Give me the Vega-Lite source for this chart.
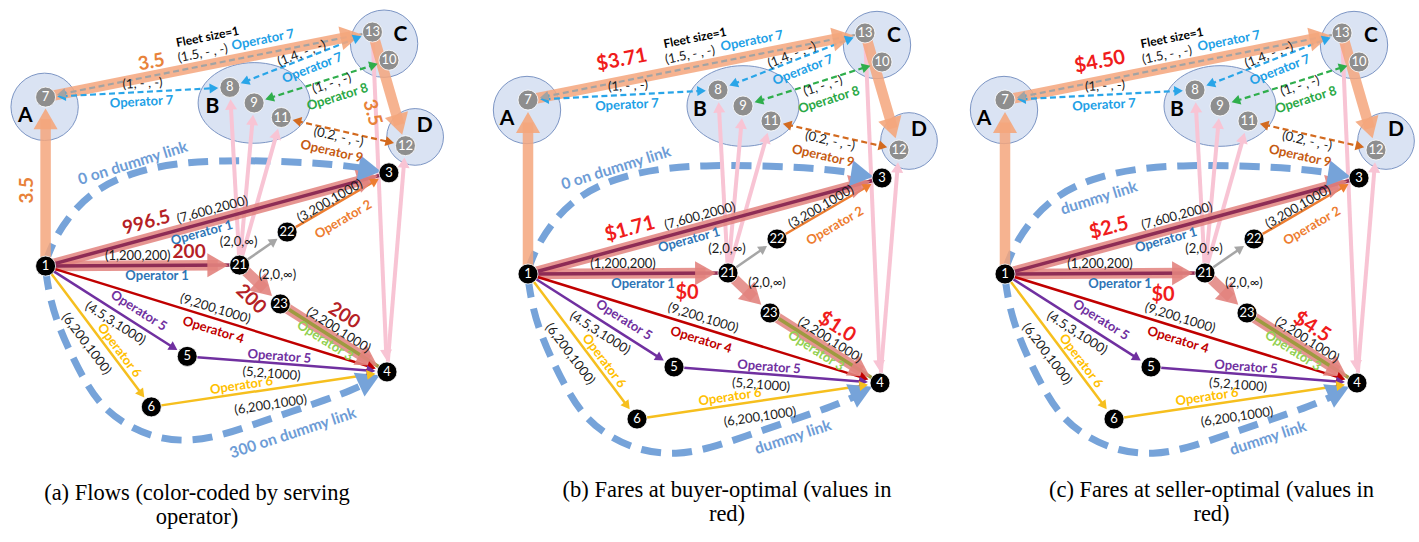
{
"$schema":"https://vega.github.io/schema/vega-lite/v6.json",
"padding":0,
"background":"white",
"spacing":7,
"config":{"view":{"stroke":null},"font":"Lato"},
"datasets":{
"nodes":[
{"id":"1","x":47,"y":274,"kind":"black"},
{"id":"3","x":401,"y":178,"kind":"black"},
{"id":"4","x":399,"y":383,"kind":"black"},
{"id":"5","x":193,"y":367,"kind":"black"},
{"id":"6","x":156,"y":419,"kind":"black"},
{"id":"21","x":247,"y":273,"kind":"black"},
{"id":"22","x":296,"y":239,"kind":"black"},
{"id":"23","x":289,"y":313,"kind":"black"},
{"id":"7","x":47,"y":100,"kind":"gray"},
{"id":"8","x":237,"y":90,"kind":"gray"},
{"id":"9","x":262,"y":106,"kind":"gray"},
{"id":"11","x":290,"y":121,"kind":"gray"},
{"id":"13","x":384,"y":33,"kind":"gray"},
{"id":"10","x":401,"y":62,"kind":"gray"},
{"id":"12","x":418,"y":150,"kind":"gray"},
{"id":"dt1","x":96,"y":193,"kind":"pseudo"},
{"id":"dt2","x":176,"y":168,"kind":"pseudo"},
{"id":"db1","x":265,"y":436,"kind":"pseudo"},
{"id":"db2","x":335,"y":413,"kind":"pseudo"},
{"id":"dth","x":330,"y":167,"kind":"pseudo"},
{"id":"dbh","x":340,"y":410,"kind":"pseudo"}
],
"zones":[
{"zone":"A","x":46,"y":110,"r":38,"kind":"zone"},
{"zone":"C","x":396,"y":45,"r":38,"kind":"zone"},
{"zone":"D","x":428,"y":141,"r":32,"kind":"zone"}
],
"ovals":[{"zone":"B","x":262,"y":106,"kind":"zone"}],
"curves":[
{"curve":"top","o":1,"x":47,"y":270,"kind":"dummy"},
{"curve":"top","o":2,"x":55,"y":248,"kind":"dummy"},
{"curve":"top","o":3,"x":72,"y":221,"kind":"dummy"},
{"curve":"top","o":4,"x":97,"y":196,"kind":"dummy"},
{"curve":"top","o":5,"x":134,"y":178,"kind":"dummy"},
{"curve":"top","o":6,"x":180,"y":168,"kind":"dummy"},
{"curve":"top","o":7,"x":230,"y":165,"kind":"dummy"},
{"curve":"top","o":8,"x":290,"y":166,"kind":"dummy"},
{"curve":"top","o":9,"x":345,"y":169,"kind":"dummy"},
{"curve":"top","o":10,"x":380,"y":174,"kind":"dummy"},
{"curve":"bottom","o":1,"x":47,"y":278,"kind":"dummy"},
{"curve":"bottom","o":2,"x":51,"y":305,"kind":"dummy"},
{"curve":"bottom","o":3,"x":59,"y":332,"kind":"dummy"},
{"curve":"bottom","o":4,"x":71,"y":360,"kind":"dummy"},
{"curve":"bottom","o":5,"x":86,"y":390,"kind":"dummy"},
{"curve":"bottom","o":6,"x":104,"y":418,"kind":"dummy"},
{"curve":"bottom","o":7,"x":130,"y":438,"kind":"dummy"},
{"curve":"bottom","o":8,"x":160,"y":451,"kind":"dummy"},
{"curve":"bottom","o":9,"x":195,"y":455,"kind":"dummy"},
{"curve":"bottom","o":10,"x":230,"y":448,"kind":"dummy"},
{"curve":"bottom","o":11,"x":265,"y":436,"kind":"dummy"},
{"curve":"bottom","o":12,"x":300,"y":424,"kind":"dummy"},
{"curve":"bottom","o":13,"x":335,"y":412,"kind":"dummy"},
{"curve":"bottom","o":14,"x":362,"y":402,"kind":"dummy"},
{"curve":"bottom","o":15,"x":379,"y":394,"kind":"dummy"}
],
"links":[
{"src":"21","dst":"8","kind":"pink","heads":"end"},
{"src":"21","dst":"9","kind":"pink","heads":"end"},
{"src":"21","dst":"11","kind":"pink","heads":"end"},
{"src":"13","dst":"4","kind":"pink","heads":"end"},
{"src":"4","dst":"12","kind":"pink","heads":"end"},
{"src":"1","dst":"7","kind":"rebal","heads":"end"},
{"src":"7","dst":"13","kind":"rebal","heads":"end"},
{"src":"13","dst":"12","kind":"rebal","heads":"end"},
{"src":"1","dst":"3","kind":"flow","heads":"end"},
{"src":"1","dst":"21","kind":"flow","heads":"end"},
{"src":"21","dst":"23","kind":"flow","heads":"end"},
{"src":"23","dst":"4","kind":"flow","heads":"end"},
{"src":"1","dst":"3","kind":"op1","heads":"none"},
{"src":"1","dst":"21","kind":"op1","heads":"none"},
{"src":"23","dst":"4","kind":"op3","heads":"none"},
{"src":"21","dst":"22","kind":"transfer","heads":"end"},
{"src":"22","dst":"3","kind":"op2","heads":"end"},
{"src":"1","dst":"4","kind":"op4","heads":"end"},
{"src":"1","dst":"5","kind":"op5","heads":"end"},
{"src":"5","dst":"4","kind":"op5","heads":"end"},
{"src":"1","dst":"6","kind":"op6","heads":"end"},
{"src":"6","dst":"4","kind":"op6","heads":"end"},
{"src":"7","dst":"8","kind":"op7","heads":"both"},
{"src":"8","dst":"13","kind":"op7","heads":"both"},
{"src":"9","dst":"10","kind":"op8","heads":"both"},
{"src":"11","dst":"12","kind":"op9","heads":"both"},
{"src":"7","dst":"13","kind":"fleet","heads":"start"},
{"src":"dth","dst":"3","kind":"dummy","heads":"end"},
{"src":"dbh","dst":"4","kind":"dummy","heads":"end"}
],
"labels":[
{"panel":"all","t":"A","kind":"t_zone","x":26,"y":119},
{"panel":"all","t":"B","kind":"t_zone","x":219,"y":110},
{"panel":"all","t":"C","kind":"t_zone","x":413,"y":36},
{"panel":"all","t":"D","kind":"t_zone","x":438,"y":130},
{"panel":"all","t":"Fleet size=1","kind":"t_fleet","x":214,"y":38,"a":"7","b":"13"},
{"panel":"all","t":"(1.5, - , -)","kind":"tuple","x":209,"y":55,"a":"7","b":"13"},
{"panel":"all","t":"Operator 7","kind":"t_op7","x":271,"y":41,"a":"7","b":"13"},
{"panel":"all","t":"(1, - , -)","kind":"tuple","x":147,"y":86,"a":"7","b":"8"},
{"panel":"all","t":"Operator 7","kind":"t_op7","x":146,"y":105,"a":"7","b":"8"},
{"panel":"all","t":"(1.4, - , -)","kind":"tuple","x":311,"y":55,"a":"8","b":"13"},
{"panel":"all","t":"Operator 7","kind":"t_op7","x":322,"y":70,"a":"8","b":"13"},
{"panel":"all","t":"(1, - , -)","kind":"tuple","x":342,"y":86,"a":"9","b":"10"},
{"panel":"all","t":"Operator 8","kind":"t_op8","x":348,"y":100,"a":"9","b":"10"},
{"panel":"all","t":"(0.2, - , -)","kind":"tuple","x":349,"y":141,"a":"11","b":"12"},
{"panel":"all","t":"Operator 9","kind":"t_op9","x":342,"y":156,"a":"11","b":"12"},
{"panel":"all","t":"(7,600,2000)","kind":"tuple","x":219,"y":216,"a":"1","b":"3"},
{"panel":"all","t":"Operator 1","kind":"t_op1","x":208,"y":240,"a":"1","b":"3"},
{"panel":"all","t":"(1,200,200)","kind":"tuple","x":142,"y":264},
{"panel":"all","t":"Operator 1","kind":"t_op1","x":162,"y":284},
{"panel":"all","t":"(2,0,∞)","kind":"tuple","x":246,"y":249},
{"panel":"all","t":"(2,0,∞)","kind":"tuple","x":286,"y":283},
{"panel":"all","t":"(3,200,1000)","kind":"tuple","x":340,"y":207,"a":"22","b":"3"},
{"panel":"all","t":"Operator 2","kind":"t_op2","x":354,"y":226,"a":"22","b":"3"},
{"panel":"all","t":"(2,200,1000)","kind":"tuple","x":349,"y":340,"a":"23","b":"4"},
{"panel":"all","t":"Operator 3","kind":"t_op3","x":335,"y":351,"a":"23","b":"4"},
{"panel":"all","t":"(9,200,1000)","kind":"tuple","x":222,"y":318,"a":"1","b":"4"},
{"panel":"all","t":"Operator 4","kind":"t_op4","x":220,"y":340,"a":"1","b":"4"},
{"panel":"all","t":"Operator 5","kind":"t_op5","x":143,"y":320,"a":"1","b":"5"},
{"panel":"all","t":"(4.5,3,1000)","kind":"tuple","x":119,"y":333,"a":"1","b":"5"},
{"panel":"all","t":"(6,200,1000)","kind":"tuple","x":89,"y":354,"a":"1","b":"6"},
{"panel":"all","t":"Operator 6","kind":"t_op6","x":123,"y":361,"a":"1","b":"6"},
{"panel":"all","t":"Operator 5","kind":"t_op5","x":288,"y":367,"a":"5","b":"4"},
{"panel":"all","t":"(5,2,1000)","kind":"tuple","x":280,"y":385,"a":"5","b":"4"},
{"panel":"all","t":"Operator 6","kind":"t_op6","x":249,"y":397,"a":"6","b":"4"},
{"panel":"all","t":"(6,200,1000)","kind":"tuple","x":279,"y":417,"a":"6","b":"4"},
{"panel":"a","t":"3.5","kind":"t_rebalval","x":28,"y":196,"a":"1","b":"7"},
{"panel":"a","t":"3.5","kind":"t_rebalval","x":156,"y":64,"a":"7","b":"13"},
{"panel":"a","t":"3.5","kind":"t_rebalval","x":384,"y":116,"a":"13","b":"12"},
{"panel":"a","t":"996.5","kind":"t_flowval","x":151,"y":229,"a":"1","b":"3"},
{"panel":"a","t":"200","kind":"t_flowval","x":195,"y":260},
{"panel":"a","t":"200","kind":"t_flowval","x":259,"y":308,"a":"21","b":"23"},
{"panel":"a","t":"200","kind":"t_flowval","x":355,"y":325,"a":"23","b":"4"},
{"panel":"a","t":"0 on dummy link","kind":"t_dummy","x":137,"y":168,"a":"dt1","b":"dt2"},
{"panel":"a","t":"300 on dummy link","kind":"t_dummy","x":302,"y":446,"a":"db1","b":"db2"},
{"panel":"b","t":"$3.71","kind":"t_fare","x":141,"y":60,"a":"7","b":"13"},
{"panel":"b","t":"$1.71","kind":"t_fare","x":149,"y":229,"a":"1","b":"3"},
{"panel":"b","t":"$0","kind":"t_fare","x":206,"y":293},
{"panel":"b","t":"$1.0","kind":"t_fare","x":356,"y":327,"a":"23","b":"4"},
{"panel":"b","t":"0 on dummy link","kind":"t_dummy","x":135,"y":168,"a":"dt1","b":"dt2"},
{"panel":"b","t":"dummy link","kind":"t_dummy","x":312,"y":437,"a":"db1","b":"db2"},
{"panel":"c","t":"$4.50","kind":"t_fare","x":142,"y":62,"a":"7","b":"13"},
{"panel":"c","t":"$2.5","kind":"t_fare","x":151,"y":228,"a":"1","b":"3"},
{"panel":"c","t":"$0","kind":"t_fare","x":205,"y":295},
{"panel":"c","t":"$4.5","kind":"t_fare","x":354,"y":327,"a":"23","b":"4"},
{"panel":"c","t":"dummy link","kind":"t_dummy","x":141,"y":198,"a":"dt1","b":"dt2"},
{"panel":"c","t":"dummy link","kind":"t_dummy","x":310,"y":438,"a":"db1","b":"db2"}
]
},
"hconcat":[
{
"width":474,"height":450,
"title":{"text":["(a) Flows (color-coded by serving","operator)"],"orient":"bottom","anchor":"middle","dx":-40,"offset":20,"font":"Liberation Serif","fontSize":22.5,"fontWeight":"normal","color":"#000000","lineHeight":24},
"encoding":{
"x":{"field":"x","type":"quantitative","scale":{"domain":[0,488.7],"nice":false,"zero":false},"axis":null},
"y":{"field":"y","type":"quantitative","scale":{"domain":[0,463.4],"nice":false,"zero":false,"reverse":true},"axis":null},
"color":{"field":"kind","type":"nominal","scale":{"domain":["zone","dummy","pink","rebal","flow","op1","op2","op3","op4","op5","op6","op7","op8","op9","fleet","transfer","black","gray","tuple","t_op1","t_op2","t_op3","t_op4","t_op5","t_op6","t_op7","t_op8","t_op9","t_dummy","t_flowval","t_rebalval","t_fare","t_zone","t_fleet"],"range":["#dae3f3","#76a3d9","#f8c4d4","#f4a67c","#e2837e","#8e2c55","#ed7d31","#9e9a40","#c00000","#7030a0","#f6bf1e","#29a5e8","#2fae4c","#d36a1f","#a3a3a3","#a6a6a6","#000000","#8e8e8e","#1a1a1a","#2e75b6","#ed7d31","#92d050","#c00000","#7030a0","#ffc000","#21a0e6","#2aa845","#c55a11","#6d9cd6","#b51f26","#e8823a","#f01c1c","#000000","#000000"]},"legend":null}
},
"layer":[
{"data":{"name":"zones"},"mark":{"type":"point","shape":"circle","filled":true,"opacity":1,"stroke":"#7c95c4","strokeWidth":1},"encoding":{"size":{"field":"r","type":"quantitative","scale":{"type":"pow","exponent":2,"domain":[0,100],"range":[0,31416]},"legend":null}}},
{"data":{"name":"ovals"},"mark":{"type":"point","shape":"M -1 0 A 1 0.72 0 1 1 1 0 A 1 0.72 0 1 1 -1 0 Z","filled":true,"opacity":1,"stroke":"#7c95c4","strokeWidth":1,"size":12544}},
{"data":{"name":"curves"},"mark":{"type":"line","interpolate":"basis","strokeWidth":7,"strokeDash":[20,11]},"encoding":{"detail":{"field":"curve","type":"nominal"},"order":{"field":"o","type":"quantitative"}}},
{"data":{"name":"links"},
"transform":[
{"lookup":"src","from":{"data":{"name":"nodes"},"key":"id","fields":["x","y","kind"]},"as":["x1","y1","k1"]},
{"lookup":"dst","from":{"data":{"name":"nodes"},"key":"id","fields":["x","y"]},"as":["xd","yd"]},
{"calculate":"sqrt((datum.xd-datum.x1)*(datum.xd-datum.x1)+(datum.yd-datum.y1)*(datum.yd-datum.y1))","as":"len"},
{"calculate":"(datum.xd-datum.x1)/datum.len","as":"ux"},
{"calculate":"(datum.yd-datum.y1)/datum.len","as":"uy"},
{"calculate":"(datum.kind=='rebal'||datum.kind=='flow')?21:(datum.kind=='dummy'?22:(datum.kind=='pink'?11:9))","as":"hh"},
{"calculate":"datum.k1=='pseudo'?0:12","as":"r1"},
{"calculate":"datum.kind=='dummy'?9:12","as":"r2"},
{"calculate":"datum.xd-datum.ux*(datum.r2+datum.hh/2)","as":"hx"},
{"calculate":"datum.yd-datum.uy*(datum.r2+datum.hh/2)","as":"hy"},
{"calculate":"datum.x1+datum.ux*(datum.r1+datum.hh/2)","as":"sx"},
{"calculate":"datum.y1+datum.uy*(datum.r1+datum.hh/2)","as":"sy"},
{"calculate":"atan2(datum.ux,-datum.uy)*180/PI","as":"ha"},
{"calculate":"datum.ha+180","as":"sa"},
{"calculate":"(datum.heads=='start'||datum.heads=='both')?datum.sx:datum.x1","as":"x"},
{"calculate":"(datum.heads=='start'||datum.heads=='both')?datum.sy:datum.y1","as":"y"},
{"calculate":"(datum.heads=='end'||datum.heads=='both')?datum.hx:datum.xd","as":"x2"},
{"calculate":"(datum.heads=='end'||datum.heads=='both')?datum.hy:datum.yd","as":"y2"}
],
"layer":[
{"transform":[{"filter":"datum.kind=='pink'"}],"mark":{"type":"rule","strokeWidth":4},"encoding":{"x2":{"field":"x2"},"y2":{"field":"y2"}}},
{"transform":[{"filter":"datum.kind=='rebal'||datum.kind=='flow'"}],"mark":{"type":"rule","strokeWidth":10.5,"opacity":0.85},"encoding":{"x2":{"field":"x2"},"y2":{"field":"y2"}}},
{"transform":[{"filter":"datum.kind=='op1'||datum.kind=='op3'"}],"mark":{"type":"rule","strokeWidth":3.5},"encoding":{"x2":{"field":"x2"},"y2":{"field":"y2"}}},
{"transform":[{"filter":"indexof(['op2','op4','op5','op6','transfer'],datum.kind)>=0"}],"mark":{"type":"rule","strokeWidth":2.5},"encoding":{"x2":{"field":"x2"},"y2":{"field":"y2"}}},
{"transform":[{"filter":"indexof(['op7','op8','op9','fleet'],datum.kind)>=0"}],"mark":{"type":"rule","strokeWidth":2.2,"strokeDash":[6,3.5]},"encoding":{"x2":{"field":"x2"},"y2":{"field":"y2"}}},
{"transform":[{"filter":"datum.heads=='end'&&(datum.kind=='rebal'||datum.kind=='flow')"},{"calculate":"datum.hx","as":"x"},{"calculate":"datum.hy","as":"y"}],"mark":{"type":"point","shape":"triangle-up","filled":true,"opacity":0.9,"size":576},"encoding":{"angle":{"field":"ha","type":"quantitative","scale":null}}},
{"transform":[{"filter":"datum.kind=='dummy'"},{"calculate":"datum.hx","as":"x"},{"calculate":"datum.hy","as":"y"}],"mark":{"type":"point","shape":"triangle-up","filled":true,"opacity":1,"size":676},"encoding":{"angle":{"field":"ha","type":"quantitative","scale":null}}},
{"transform":[{"filter":"datum.kind=='pink'"},{"calculate":"datum.hx","as":"x"},{"calculate":"datum.hy","as":"y"}],"mark":{"type":"point","shape":"triangle-up","filled":true,"opacity":1,"size":144},"encoding":{"angle":{"field":"ha","type":"quantitative","scale":null}}},
{"transform":[{"filter":"(datum.heads=='end'||datum.heads=='both')&&indexof(['op2','op4','op5','op6','op7','op8','op9','transfer'],datum.kind)>=0"},{"calculate":"datum.hx","as":"x"},{"calculate":"datum.hy","as":"y"}],"mark":{"type":"point","shape":"triangle-up","filled":true,"opacity":1,"size":100},"encoding":{"angle":{"field":"ha","type":"quantitative","scale":null}}},
{"transform":[{"filter":"datum.heads=='start'||datum.heads=='both'"},{"calculate":"datum.sx","as":"x"},{"calculate":"datum.sy","as":"y"}],"mark":{"type":"point","shape":"triangle-up","filled":true,"opacity":1,"size":100},"encoding":{"angle":{"field":"sa","type":"quantitative","scale":null}}}
]},
{"data":{"name":"nodes"},"transform":[{"filter":"datum.kind!='pseudo'"}],"layer":[
{"mark":{"type":"point","shape":"circle","filled":true,"opacity":1,"size":400,"stroke":"#ffffff","strokeWidth":0.8}},
{"mark":{"type":"text","font":"Lato","fontSize":13,"align":"center","baseline":"middle"},"encoding":{"text":{"field":"id","type":"nominal"},"color":{"value":"#ffffff"}}}
]},
{"data":{"name":"labels"},
"transform":[
{"filter":"datum.panel=='all'||datum.panel=='a'"},
{"lookup":"a","from":{"data":{"name":"nodes"},"key":"id","fields":["x","y"]},"as":["ax","ay"]},
{"lookup":"b","from":{"data":{"name":"nodes"},"key":"id","fields":["x","y"]},"as":["bx","by"]},
{"calculate":"datum.a?atan2(datum.by-datum.ay,datum.bx-datum.ax)*180/PI:0","as":"raw"},
{"calculate":"datum.raw>90?datum.raw-180:(datum.raw<-90?datum.raw+180:datum.raw)","as":"ang"}
],
"encoding":{"text":{"field":"t","type":"nominal"},"angle":{"field":"ang","type":"quantitative","scale":null}},
"layer":[
{"transform":[{"filter":"datum.kind=='tuple'"}],"mark":{"type":"text","font":"Lato","fontSize":13,"align":"center","baseline":"middle"}},
{"transform":[{"filter":"indexof(datum.kind,'t_op')==0"}],"mark":{"type":"text","font":"Lato","fontWeight":"bold","fontSize":13,"align":"center","baseline":"middle"}},
{"transform":[{"filter":"datum.kind=='t_flowval'||datum.kind=='t_rebalval'"}],"mark":{"type":"text","font":"Lato","fontWeight":"bold","fontSize":19,"align":"center","baseline":"middle"}},
{"transform":[{"filter":"datum.kind=='t_fare'"}],"mark":{"type":"text","font":"Lato","fontWeight":"bold","fontSize":20,"align":"center","baseline":"middle"}},
{"transform":[{"filter":"datum.kind=='t_dummy'"}],"mark":{"type":"text","font":"Lato","fontWeight":"bold","fontSize":15.5,"align":"center","baseline":"middle"}},
{"transform":[{"filter":"datum.kind=='t_zone'"}],"mark":{"type":"text","font":"Lato","fontWeight":"bold","fontSize":21,"align":"center","baseline":"middle"}},
{"transform":[{"filter":"datum.kind=='t_fleet'"}],"mark":{"type":"text","font":"Lato","fontWeight":"bold","fontSize":12,"align":"center","baseline":"middle"}}
]}
]
},
{
"width":470,"height":450,
"title":{"text":["(b) Fares at buyer-optimal (values in","red)"],"orient":"bottom","anchor":"middle","dx":11,"offset":12,"font":"Liberation Serif","fontSize":22.5,"fontWeight":"normal","color":"#000000","lineHeight":24},
"encoding":{
"x":{"field":"x","type":"quantitative","scale":{"domain":[0,470],"nice":false,"zero":false},"axis":null},
"y":{"field":"y","type":"quantitative","scale":{"domain":[0,450],"nice":false,"zero":false,"reverse":true},"axis":null},
"color":{"field":"kind","type":"nominal","scale":{"domain":["zone","dummy","pink","rebal","flow","op1","op2","op3","op4","op5","op6","op7","op8","op9","fleet","transfer","black","gray","tuple","t_op1","t_op2","t_op3","t_op4","t_op5","t_op6","t_op7","t_op8","t_op9","t_dummy","t_flowval","t_rebalval","t_fare","t_zone","t_fleet"],"range":["#dae3f3","#76a3d9","#f8c4d4","#f4a67c","#e2837e","#8e2c55","#ed7d31","#9e9a40","#c00000","#7030a0","#f6bf1e","#29a5e8","#2fae4c","#d36a1f","#a3a3a3","#a6a6a6","#000000","#8e8e8e","#1a1a1a","#2e75b6","#ed7d31","#92d050","#c00000","#7030a0","#ffc000","#21a0e6","#2aa845","#c55a11","#6d9cd6","#b51f26","#e8823a","#f01c1c","#000000","#000000"]},"legend":null}
},
"layer":[
{"data":{"name":"zones"},"mark":{"type":"point","shape":"circle","filled":true,"opacity":1,"stroke":"#7c95c4","strokeWidth":1},"encoding":{"size":{"field":"r","type":"quantitative","scale":{"type":"pow","exponent":2,"domain":[0,100],"range":[0,31416]},"legend":null}}},
{"data":{"name":"ovals"},"mark":{"type":"point","shape":"M -1 0 A 1 0.72 0 1 1 1 0 A 1 0.72 0 1 1 -1 0 Z","filled":true,"opacity":1,"stroke":"#7c95c4","strokeWidth":1,"size":12544}},
{"data":{"name":"curves"},"mark":{"type":"line","interpolate":"basis","strokeWidth":7,"strokeDash":[20,11]},"encoding":{"detail":{"field":"curve","type":"nominal"},"order":{"field":"o","type":"quantitative"}}},
{"data":{"name":"links"},
"transform":[
{"lookup":"src","from":{"data":{"name":"nodes"},"key":"id","fields":["x","y","kind"]},"as":["x1","y1","k1"]},
{"lookup":"dst","from":{"data":{"name":"nodes"},"key":"id","fields":["x","y"]},"as":["xd","yd"]},
{"calculate":"sqrt((datum.xd-datum.x1)*(datum.xd-datum.x1)+(datum.yd-datum.y1)*(datum.yd-datum.y1))","as":"len"},
{"calculate":"(datum.xd-datum.x1)/datum.len","as":"ux"},
{"calculate":"(datum.yd-datum.y1)/datum.len","as":"uy"},
{"calculate":"(datum.kind=='rebal'||datum.kind=='flow')?21:(datum.kind=='dummy'?22:(datum.kind=='pink'?11:9))","as":"hh"},
{"calculate":"datum.k1=='pseudo'?0:12","as":"r1"},
{"calculate":"datum.kind=='dummy'?9:12","as":"r2"},
{"calculate":"datum.xd-datum.ux*(datum.r2+datum.hh/2)","as":"hx"},
{"calculate":"datum.yd-datum.uy*(datum.r2+datum.hh/2)","as":"hy"},
{"calculate":"datum.x1+datum.ux*(datum.r1+datum.hh/2)","as":"sx"},
{"calculate":"datum.y1+datum.uy*(datum.r1+datum.hh/2)","as":"sy"},
{"calculate":"atan2(datum.ux,-datum.uy)*180/PI","as":"ha"},
{"calculate":"datum.ha+180","as":"sa"},
{"calculate":"(datum.heads=='start'||datum.heads=='both')?datum.sx:datum.x1","as":"x"},
{"calculate":"(datum.heads=='start'||datum.heads=='both')?datum.sy:datum.y1","as":"y"},
{"calculate":"(datum.heads=='end'||datum.heads=='both')?datum.hx:datum.xd","as":"x2"},
{"calculate":"(datum.heads=='end'||datum.heads=='both')?datum.hy:datum.yd","as":"y2"}
],
"layer":[
{"transform":[{"filter":"datum.kind=='pink'"}],"mark":{"type":"rule","strokeWidth":4},"encoding":{"x2":{"field":"x2"},"y2":{"field":"y2"}}},
{"transform":[{"filter":"datum.kind=='rebal'||datum.kind=='flow'"}],"mark":{"type":"rule","strokeWidth":10.5,"opacity":0.85},"encoding":{"x2":{"field":"x2"},"y2":{"field":"y2"}}},
{"transform":[{"filter":"datum.kind=='op1'||datum.kind=='op3'"}],"mark":{"type":"rule","strokeWidth":3.5},"encoding":{"x2":{"field":"x2"},"y2":{"field":"y2"}}},
{"transform":[{"filter":"indexof(['op2','op4','op5','op6','transfer'],datum.kind)>=0"}],"mark":{"type":"rule","strokeWidth":2.5},"encoding":{"x2":{"field":"x2"},"y2":{"field":"y2"}}},
{"transform":[{"filter":"indexof(['op7','op8','op9','fleet'],datum.kind)>=0"}],"mark":{"type":"rule","strokeWidth":2.2,"strokeDash":[6,3.5]},"encoding":{"x2":{"field":"x2"},"y2":{"field":"y2"}}},
{"transform":[{"filter":"datum.heads=='end'&&(datum.kind=='rebal'||datum.kind=='flow')"},{"calculate":"datum.hx","as":"x"},{"calculate":"datum.hy","as":"y"}],"mark":{"type":"point","shape":"triangle-up","filled":true,"opacity":0.9,"size":576},"encoding":{"angle":{"field":"ha","type":"quantitative","scale":null}}},
{"transform":[{"filter":"datum.kind=='dummy'"},{"calculate":"datum.hx","as":"x"},{"calculate":"datum.hy","as":"y"}],"mark":{"type":"point","shape":"triangle-up","filled":true,"opacity":1,"size":676},"encoding":{"angle":{"field":"ha","type":"quantitative","scale":null}}},
{"transform":[{"filter":"datum.kind=='pink'"},{"calculate":"datum.hx","as":"x"},{"calculate":"datum.hy","as":"y"}],"mark":{"type":"point","shape":"triangle-up","filled":true,"opacity":1,"size":144},"encoding":{"angle":{"field":"ha","type":"quantitative","scale":null}}},
{"transform":[{"filter":"(datum.heads=='end'||datum.heads=='both')&&indexof(['op2','op4','op5','op6','op7','op8','op9','transfer'],datum.kind)>=0"},{"calculate":"datum.hx","as":"x"},{"calculate":"datum.hy","as":"y"}],"mark":{"type":"point","shape":"triangle-up","filled":true,"opacity":1,"size":100},"encoding":{"angle":{"field":"ha","type":"quantitative","scale":null}}},
{"transform":[{"filter":"datum.heads=='start'||datum.heads=='both'"},{"calculate":"datum.sx","as":"x"},{"calculate":"datum.sy","as":"y"}],"mark":{"type":"point","shape":"triangle-up","filled":true,"opacity":1,"size":100},"encoding":{"angle":{"field":"sa","type":"quantitative","scale":null}}}
]},
{"data":{"name":"nodes"},"transform":[{"filter":"datum.kind!='pseudo'"}],"layer":[
{"mark":{"type":"point","shape":"circle","filled":true,"opacity":1,"size":400,"stroke":"#ffffff","strokeWidth":0.8}},
{"mark":{"type":"text","font":"Lato","fontSize":13,"align":"center","baseline":"middle"},"encoding":{"text":{"field":"id","type":"nominal"},"color":{"value":"#ffffff"}}}
]},
{"data":{"name":"labels"},
"transform":[
{"filter":"datum.panel=='all'||datum.panel=='b'"},
{"lookup":"a","from":{"data":{"name":"nodes"},"key":"id","fields":["x","y"]},"as":["ax","ay"]},
{"lookup":"b","from":{"data":{"name":"nodes"},"key":"id","fields":["x","y"]},"as":["bx","by"]},
{"calculate":"datum.a?atan2(datum.by-datum.ay,datum.bx-datum.ax)*180/PI:0","as":"raw"},
{"calculate":"datum.raw>90?datum.raw-180:(datum.raw<-90?datum.raw+180:datum.raw)","as":"ang"}
],
"encoding":{"text":{"field":"t","type":"nominal"},"angle":{"field":"ang","type":"quantitative","scale":null}},
"layer":[
{"transform":[{"filter":"datum.kind=='tuple'"}],"mark":{"type":"text","font":"Lato","fontSize":13,"align":"center","baseline":"middle"}},
{"transform":[{"filter":"indexof(datum.kind,'t_op')==0"}],"mark":{"type":"text","font":"Lato","fontWeight":"bold","fontSize":13,"align":"center","baseline":"middle"}},
{"transform":[{"filter":"datum.kind=='t_flowval'||datum.kind=='t_rebalval'"}],"mark":{"type":"text","font":"Lato","fontWeight":"bold","fontSize":19,"align":"center","baseline":"middle"}},
{"transform":[{"filter":"datum.kind=='t_fare'"}],"mark":{"type":"text","font":"Lato","fontWeight":"bold","fontSize":20,"align":"center","baseline":"middle"}},
{"transform":[{"filter":"datum.kind=='t_dummy'"}],"mark":{"type":"text","font":"Lato","fontWeight":"bold","fontSize":15.5,"align":"center","baseline":"middle"}},
{"transform":[{"filter":"datum.kind=='t_zone'"}],"mark":{"type":"text","font":"Lato","fontWeight":"bold","fontSize":21,"align":"center","baseline":"middle"}},
{"transform":[{"filter":"datum.kind=='t_fleet'"}],"mark":{"type":"text","font":"Lato","fontWeight":"bold","fontSize":12,"align":"center","baseline":"middle"}}
]}
]
},
{
"width":461,"height":450,
"title":{"text":["(c) Fares at seller-optimal (values in","red)"],"orient":"bottom","anchor":"middle","dx":23,"offset":12,"font":"Liberation Serif","fontSize":22.5,"fontWeight":"normal","color":"#000000","lineHeight":24},
"encoding":{
"x":{"field":"x","type":"quantitative","scale":{"domain":[0,461],"nice":false,"zero":false},"axis":null},
"y":{"field":"y","type":"quantitative","scale":{"domain":[0,450],"nice":false,"zero":false,"reverse":true},"axis":null},
"color":{"field":"kind","type":"nominal","scale":{"domain":["zone","dummy","pink","rebal","flow","op1","op2","op3","op4","op5","op6","op7","op8","op9","fleet","transfer","black","gray","tuple","t_op1","t_op2","t_op3","t_op4","t_op5","t_op6","t_op7","t_op8","t_op9","t_dummy","t_flowval","t_rebalval","t_fare","t_zone","t_fleet"],"range":["#dae3f3","#76a3d9","#f8c4d4","#f4a67c","#e2837e","#8e2c55","#ed7d31","#9e9a40","#c00000","#7030a0","#f6bf1e","#29a5e8","#2fae4c","#d36a1f","#a3a3a3","#a6a6a6","#000000","#8e8e8e","#1a1a1a","#2e75b6","#ed7d31","#92d050","#c00000","#7030a0","#ffc000","#21a0e6","#2aa845","#c55a11","#6d9cd6","#b51f26","#e8823a","#f01c1c","#000000","#000000"]},"legend":null}
},
"layer":[
{"data":{"name":"zones"},"mark":{"type":"point","shape":"circle","filled":true,"opacity":1,"stroke":"#7c95c4","strokeWidth":1},"encoding":{"size":{"field":"r","type":"quantitative","scale":{"type":"pow","exponent":2,"domain":[0,100],"range":[0,31416]},"legend":null}}},
{"data":{"name":"ovals"},"mark":{"type":"point","shape":"M -1 0 A 1 0.72 0 1 1 1 0 A 1 0.72 0 1 1 -1 0 Z","filled":true,"opacity":1,"stroke":"#7c95c4","strokeWidth":1,"size":12544}},
{"data":{"name":"curves"},"mark":{"type":"line","interpolate":"basis","strokeWidth":7,"strokeDash":[20,11]},"encoding":{"detail":{"field":"curve","type":"nominal"},"order":{"field":"o","type":"quantitative"}}},
{"data":{"name":"links"},
"transform":[
{"lookup":"src","from":{"data":{"name":"nodes"},"key":"id","fields":["x","y","kind"]},"as":["x1","y1","k1"]},
{"lookup":"dst","from":{"data":{"name":"nodes"},"key":"id","fields":["x","y"]},"as":["xd","yd"]},
{"calculate":"sqrt((datum.xd-datum.x1)*(datum.xd-datum.x1)+(datum.yd-datum.y1)*(datum.yd-datum.y1))","as":"len"},
{"calculate":"(datum.xd-datum.x1)/datum.len","as":"ux"},
{"calculate":"(datum.yd-datum.y1)/datum.len","as":"uy"},
{"calculate":"(datum.kind=='rebal'||datum.kind=='flow')?21:(datum.kind=='dummy'?22:(datum.kind=='pink'?11:9))","as":"hh"},
{"calculate":"datum.k1=='pseudo'?0:12","as":"r1"},
{"calculate":"datum.kind=='dummy'?9:12","as":"r2"},
{"calculate":"datum.xd-datum.ux*(datum.r2+datum.hh/2)","as":"hx"},
{"calculate":"datum.yd-datum.uy*(datum.r2+datum.hh/2)","as":"hy"},
{"calculate":"datum.x1+datum.ux*(datum.r1+datum.hh/2)","as":"sx"},
{"calculate":"datum.y1+datum.uy*(datum.r1+datum.hh/2)","as":"sy"},
{"calculate":"atan2(datum.ux,-datum.uy)*180/PI","as":"ha"},
{"calculate":"datum.ha+180","as":"sa"},
{"calculate":"(datum.heads=='start'||datum.heads=='both')?datum.sx:datum.x1","as":"x"},
{"calculate":"(datum.heads=='start'||datum.heads=='both')?datum.sy:datum.y1","as":"y"},
{"calculate":"(datum.heads=='end'||datum.heads=='both')?datum.hx:datum.xd","as":"x2"},
{"calculate":"(datum.heads=='end'||datum.heads=='both')?datum.hy:datum.yd","as":"y2"}
],
"layer":[
{"transform":[{"filter":"datum.kind=='pink'"}],"mark":{"type":"rule","strokeWidth":4},"encoding":{"x2":{"field":"x2"},"y2":{"field":"y2"}}},
{"transform":[{"filter":"datum.kind=='rebal'||datum.kind=='flow'"}],"mark":{"type":"rule","strokeWidth":10.5,"opacity":0.85},"encoding":{"x2":{"field":"x2"},"y2":{"field":"y2"}}},
{"transform":[{"filter":"datum.kind=='op1'||datum.kind=='op3'"}],"mark":{"type":"rule","strokeWidth":3.5},"encoding":{"x2":{"field":"x2"},"y2":{"field":"y2"}}},
{"transform":[{"filter":"indexof(['op2','op4','op5','op6','transfer'],datum.kind)>=0"}],"mark":{"type":"rule","strokeWidth":2.5},"encoding":{"x2":{"field":"x2"},"y2":{"field":"y2"}}},
{"transform":[{"filter":"indexof(['op7','op8','op9','fleet'],datum.kind)>=0"}],"mark":{"type":"rule","strokeWidth":2.2,"strokeDash":[6,3.5]},"encoding":{"x2":{"field":"x2"},"y2":{"field":"y2"}}},
{"transform":[{"filter":"datum.heads=='end'&&(datum.kind=='rebal'||datum.kind=='flow')"},{"calculate":"datum.hx","as":"x"},{"calculate":"datum.hy","as":"y"}],"mark":{"type":"point","shape":"triangle-up","filled":true,"opacity":0.9,"size":576},"encoding":{"angle":{"field":"ha","type":"quantitative","scale":null}}},
{"transform":[{"filter":"datum.kind=='dummy'"},{"calculate":"datum.hx","as":"x"},{"calculate":"datum.hy","as":"y"}],"mark":{"type":"point","shape":"triangle-up","filled":true,"opacity":1,"size":676},"encoding":{"angle":{"field":"ha","type":"quantitative","scale":null}}},
{"transform":[{"filter":"datum.kind=='pink'"},{"calculate":"datum.hx","as":"x"},{"calculate":"datum.hy","as":"y"}],"mark":{"type":"point","shape":"triangle-up","filled":true,"opacity":1,"size":144},"encoding":{"angle":{"field":"ha","type":"quantitative","scale":null}}},
{"transform":[{"filter":"(datum.heads=='end'||datum.heads=='both')&&indexof(['op2','op4','op5','op6','op7','op8','op9','transfer'],datum.kind)>=0"},{"calculate":"datum.hx","as":"x"},{"calculate":"datum.hy","as":"y"}],"mark":{"type":"point","shape":"triangle-up","filled":true,"opacity":1,"size":100},"encoding":{"angle":{"field":"ha","type":"quantitative","scale":null}}},
{"transform":[{"filter":"datum.heads=='start'||datum.heads=='both'"},{"calculate":"datum.sx","as":"x"},{"calculate":"datum.sy","as":"y"}],"mark":{"type":"point","shape":"triangle-up","filled":true,"opacity":1,"size":100},"encoding":{"angle":{"field":"sa","type":"quantitative","scale":null}}}
]},
{"data":{"name":"nodes"},"transform":[{"filter":"datum.kind!='pseudo'"}],"layer":[
{"mark":{"type":"point","shape":"circle","filled":true,"opacity":1,"size":400,"stroke":"#ffffff","strokeWidth":0.8}},
{"mark":{"type":"text","font":"Lato","fontSize":13,"align":"center","baseline":"middle"},"encoding":{"text":{"field":"id","type":"nominal"},"color":{"value":"#ffffff"}}}
]},
{"data":{"name":"labels"},
"transform":[
{"filter":"datum.panel=='all'||datum.panel=='c'"},
{"lookup":"a","from":{"data":{"name":"nodes"},"key":"id","fields":["x","y"]},"as":["ax","ay"]},
{"lookup":"b","from":{"data":{"name":"nodes"},"key":"id","fields":["x","y"]},"as":["bx","by"]},
{"calculate":"datum.a?atan2(datum.by-datum.ay,datum.bx-datum.ax)*180/PI:0","as":"raw"},
{"calculate":"datum.raw>90?datum.raw-180:(datum.raw<-90?datum.raw+180:datum.raw)","as":"ang"}
],
"encoding":{"text":{"field":"t","type":"nominal"},"angle":{"field":"ang","type":"quantitative","scale":null}},
"layer":[
{"transform":[{"filter":"datum.kind=='tuple'"}],"mark":{"type":"text","font":"Lato","fontSize":13,"align":"center","baseline":"middle"}},
{"transform":[{"filter":"indexof(datum.kind,'t_op')==0"}],"mark":{"type":"text","font":"Lato","fontWeight":"bold","fontSize":13,"align":"center","baseline":"middle"}},
{"transform":[{"filter":"datum.kind=='t_flowval'||datum.kind=='t_rebalval'"}],"mark":{"type":"text","font":"Lato","fontWeight":"bold","fontSize":19,"align":"center","baseline":"middle"}},
{"transform":[{"filter":"datum.kind=='t_fare'"}],"mark":{"type":"text","font":"Lato","fontWeight":"bold","fontSize":20,"align":"center","baseline":"middle"}},
{"transform":[{"filter":"datum.kind=='t_dummy'"}],"mark":{"type":"text","font":"Lato","fontWeight":"bold","fontSize":15.5,"align":"center","baseline":"middle"}},
{"transform":[{"filter":"datum.kind=='t_zone'"}],"mark":{"type":"text","font":"Lato","fontWeight":"bold","fontSize":21,"align":"center","baseline":"middle"}},
{"transform":[{"filter":"datum.kind=='t_fleet'"}],"mark":{"type":"text","font":"Lato","fontWeight":"bold","fontSize":12,"align":"center","baseline":"middle"}}
]}
]
}
]
}
